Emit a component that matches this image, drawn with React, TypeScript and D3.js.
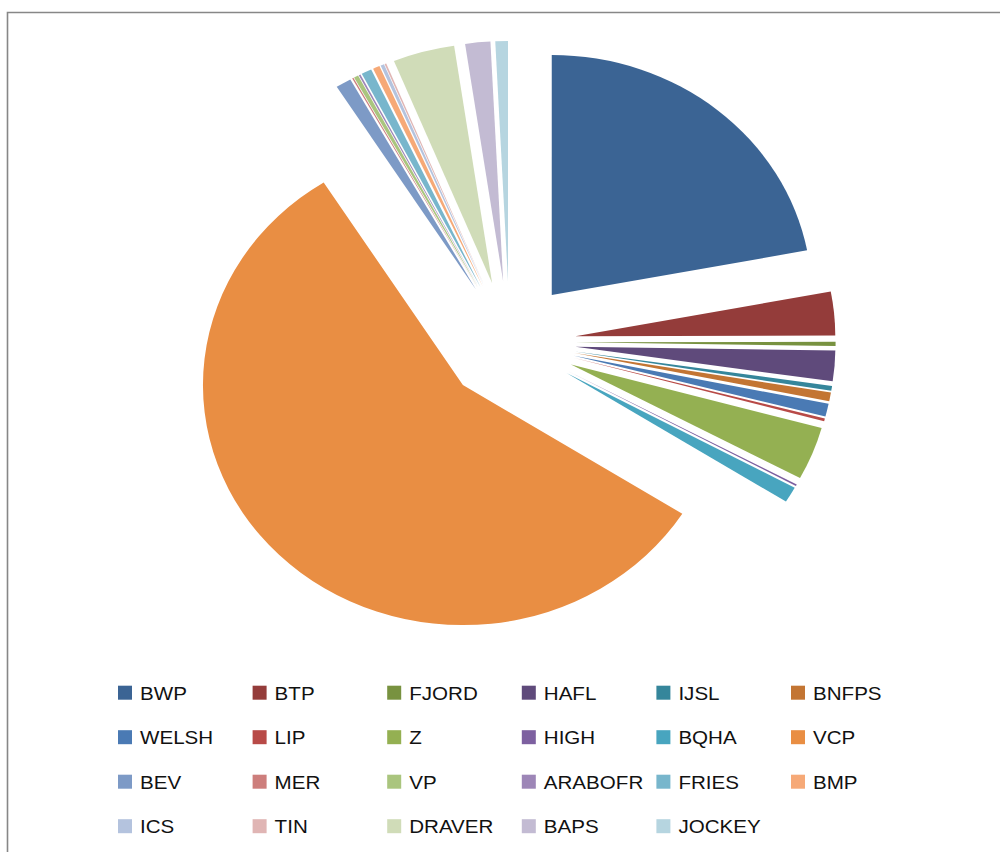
import React from "react";
import * as d3 from "d3";

// breed share of registrations (%)
const breeds = [
  "BWP", "BTP", "FJORD", "HAFL", "IJSL", "BNFPS",
  "WELSH", "LIP", "Z", "HIGH", "BQHA", "VCP",
  "BEV", "MER", "VP", "ARABOFR", "FRIES", "BMP",
  "ICS", "TIN", "DRAVER", "BAPS", "JOCKEY",
];
const shares = [
  22.03, 2.94, 0.28, 2.06, 0.33, 0.58,
  0.86, 0.19, 3.58, 0.11, 1.06, 57.03,
  0.97, 0.08, 0.28, 0.11, 0.64, 0.42,
  0.22, 0.11, 3.83, 1.56, 0.78,
];
const colors = [
  "#3B6494", "#943C3A", "#789240", "#5F4A7B", "#35869B", "#C37533",
  "#4A7AB4", "#B84A47", "#94B052", "#7D60A0", "#48A5BF", "#E98E43",
  "#7D9AC6", "#CD7E7C", "#AAC57E", "#9D86B7", "#78B6CC", "#F6A977",
  "#B4C3DE", "#E0B5B4", "#D0DCB8", "#C3BBD3", "#B6D5E0",
];

const W = 1000;
const H = 852;
const stretch = 1.083; // the chart is a little wider than tall
const radius = 240;
const explode = 61;
const cx = 509.6;
const cy = 342;

export default function App() {
  const data = breeds.map((name, i) => ({ name, value: shares[i], color: colors[i] }));
  const pie = d3.pie<any>().sort(null).value((d) => d.value);
  const arc = d3.arc<any>().innerRadius(0).outerRadius(radius);
  const slices = pie(data);

  const cols = 6;
  const colX = d3.scaleLinear().domain([0, 1]).range([118, 252.6]);
  const rowY = d3.scaleLinear().domain([0, 1]).range([692.7, 737.2]);

  return (
    <svg
      width={W}
      height={H}
      style={{ position: "absolute", left: 0, top: 0, background: "#fff" }}
    >
      <rect width={W} height={H} fill="#fff" />
      <path d={`M7.5,${H} V12.5 H${W}`} fill="none" stroke="#878787" strokeWidth={1.6} />

      <g transform={`translate(${cx},${cy}) scale(${stretch},1)`}>
        {slices.map((s, i) => {
          const mid = (s.startAngle + s.endAngle) / 2;
          const dx = explode * Math.sin(mid);
          const dy = -explode * Math.cos(mid);
          return (
            <path
              key={i}
              d={arc(s) || ""}
              transform={`translate(${dx},${dy})`}
              fill={s.data.color}
            />
          );
        })}
      </g>

      <g fontFamily="'Liberation Sans', Arial, sans-serif" fontSize={19} fill="#111">
        {data.map((d, i) => {
          const x = colX(i % cols);
          const y = rowY(Math.floor(i / cols));
          return (
            <g key={d.name} transform={`translate(${x},${y})`}>
              <rect x={0} y={-7} width={14} height={14} fill={d.color} />
              <text
                x={0}
                y={0}
                dy="0.36em"
                transform={`translate(22,0) scale(${stretch},1)`}
              >
                {d.name}
              </text>
            </g>
          );
        })}
      </g>
    </svg>
  );
}
